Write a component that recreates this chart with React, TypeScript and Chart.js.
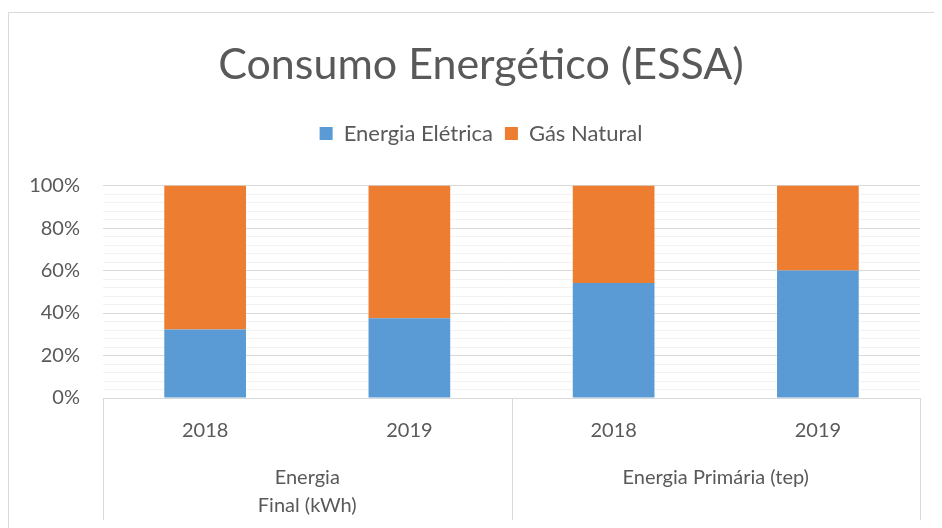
import React, { useEffect, useRef } from "react";
import { Chart, registerables } from "chart.js";

Chart.register(...registerables);

const categories = ["2018", "2019", "2018", "2019"];
const groupLabels = [["Energia", "Final (kWh)"], ["Energia Primária (tep)"]];
const groupSizes = [2, 2];
const eletrica = [32.2, 37.6, 54.1, 60.0];
const gasNatural = [67.8, 62.4, 45.9, 40.0];
const seriesNames = ["Energia Elétrica", "Gás Natural"];

const TEXT = "#595959";
const LINE = "#d9d9d9";
const FONT = "Lato";

const decorPlugin = {
  id: "decor",
  beforeInit(chart: any) {
    const legend = chart.legend;
    if (legend) {
      const origFit = legend.fit;
      legend.fit = function () {
        origFit.call(this);
        this.height += 31;
      };
    }
  },
  beforeDraw(chart: any) {
    const { ctx, width, height } = chart;
    ctx.save();
    ctx.strokeStyle = LINE;
    ctx.lineWidth = 1;
    ctx.beginPath();
    ctx.moveTo(0.5, height);
    ctx.lineTo(0.5, 4.5);
    ctx.lineTo(width, 4.5);
    ctx.stroke();
    ctx.restore();
  },
  afterDraw(chart: any) {
    const { ctx, chartArea, height } = chart;
    const xs = chart.scales.x;
    const bottom = chartArea.bottom;
    ctx.save();
    ctx.strokeStyle = LINE;
    ctx.lineWidth = 1;
    const seps: number[] = [chartArea.left];
    let idx = 0;
    groupSizes.forEach((n) => {
      idx += n;
      if (idx < categories.length) {
        seps.push((xs.getPixelForValue(idx - 1) + xs.getPixelForValue(idx)) / 2);
      }
    });
    seps.push(chartArea.right);
    ctx.beginPath();
    seps.forEach((x) => {
      const px = Math.round(x) + 0.5;
      ctx.moveTo(px, bottom);
      ctx.lineTo(px, height - 8);
    });
    ctx.stroke();
    ctx.fillStyle = TEXT;
    ctx.font = `20px ${FONT}`;
    ctx.textAlign = "center";
    ctx.textBaseline = "middle";
    let start = 0;
    groupLabels.forEach((lines, g) => {
      const end = start + groupSizes[g] - 1;
      const cx = (xs.getPixelForValue(start) + xs.getPixelForValue(end)) / 2;
      lines.forEach((line, i) => {
        ctx.fillText(line, cx, bottom + 80 + i * 28);
      });
      start = end + 1;
    });
    ctx.restore();
  },
};

export default function App() {
  const ref = useRef<HTMLCanvasElement>(null);
  useEffect(() => {
    if (!ref.current) return;
    const chart = new Chart(ref.current, {
      type: "bar",
      data: {
        labels: categories,
        datasets: [
          { label: seriesNames[0], data: eletrica, backgroundColor: "#5B9BD5" },
          { label: seriesNames[1], data: gasNatural, backgroundColor: "#ED7D31" },
        ],
      },
      options: {
        responsive: false,
        animation: false,
        layout: { padding: { top: 0, right: 0, left: 12, bottom: 0 } },
        datasets: { bar: { categoryPercentage: 1, barPercentage: 0.4 } },
        plugins: {
          title: {
            display: true,
            text: "Consumo Energético (ESSA)",
            color: TEXT,
            font: { family: FONT, size: 43, weight: "normal" },
            padding: { top: 31, bottom: 20 },
          },
          legend: {
            display: true,
            labels: {
              color: TEXT,
              font: { family: FONT, size: 22 },
              boxWidth: 13,
              boxHeight: 13,
              padding: 12,
            },
          },
          tooltip: { enabled: false },
        },
        scales: {
          x: {
            stacked: true,
            grid: { display: false },
            border: { display: true, color: LINE },
            ticks: { color: TEXT, font: { family: FONT, size: 20 }, padding: 13 },
            afterFit: (s: any) => { s.height = 130; },
          },
          y: {
            stacked: true,
            min: 0,
            max: 100,
            border: { display: false },
            grid: {
              drawTicks: false,
              color: (c: any) => (c.tick && c.tick.value % 20 === 0 ? LINE : "#f2f2f2"),
            },
            ticks: {
              stepSize: 4,
              autoSkip: false,
              color: TEXT,
              font: { family: FONT, size: 20 },
              padding: 23,
              callback: (v: any) => (Number(v) % 20 === 0 ? v + "%" : ""),
            },
            afterFit: (s: any) => { s.width = 83; },
          },
          yRight: {
            position: "right",
            display: true,
            grid: { display: false },
            border: { display: false },
            ticks: { display: false },
            afterFit: (s: any) => { s.width = 22; },
          },
        },
      },
      plugins: [decorPlugin],
    });
    return () => chart.destroy();
  }, []);
  return <canvas ref={ref} width={934} height={520} style={{ display: "block" }} />;
}
